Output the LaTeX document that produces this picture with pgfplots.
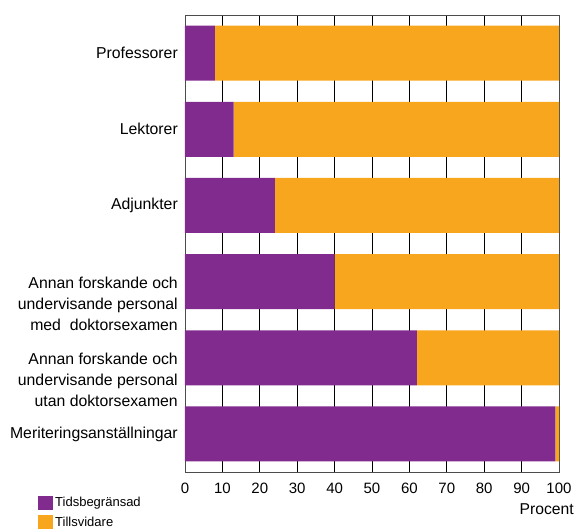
\documentclass[border=0pt]{standalone}
\usepackage{pgfplots}
\pgfplotsset{compat=1.18}
\usepackage{fontspec}
\setmainfont{Liberation Sans}
\definecolor{tidsb}{HTML}{822B8F}
\definecolor{tillsv}{HTML}{F7A61E}

\begin{document}
\begin{tikzpicture}
\begin{axis}[
    name=ax,
    scale only axis,
    width=374pt, height=457pt,
    xbar stacked,
    bar width=55pt,
    xmin=0, xmax=100,
    ymin=-0.5, ymax=5.5,
    y dir=reverse,
    xtick={0,10,...,100},
    ytick={0,1,2,5},
    yticklabels={Professorer, Lektorer, Adjunkter, Meriteringsanställningar},
    extra y ticks={3,4},
    extra y tick labels={
        {Annan forskande och\\undervisande personal\\med\ \ doktorsexamen},
        {Annan forskande och\\undervisande personal\\utan doktorsexamen}},
    extra y tick style={yticklabel style={yshift=-22pt}},
    yticklabel style={align=right, font=\fontsize{15.8}{21}\selectfont, inner sep=0pt, xshift=-7pt},
    xticklabel style={font=\fontsize{15}{18}\selectfont, yshift=-7pt},
    /pgf/number format/assume math mode=true,
    major tick length=0pt,
    xmajorgrids,
    grid style={black, line width=0.7pt},
    axis line style={black!70, line width=0.7pt},
    xlabel={Procent},
    xlabel style={at={(axis description cs:1,0)}, anchor=north east, inner sep=0pt,
        font=\fontsize{15.7}{18}\selectfont, yshift=-31pt, xshift=15pt},
    legend style={at={(axis description cs:-0.393,-0.05)}, anchor=north west,
        draw=none, fill=none, inner sep=0pt, row sep=5pt,
        font=\fontsize{13}{15}\selectfont,
        /tikz/every even column/.append style={column sep=3pt}},
    legend cell align=left,
    legend image code/.code={\fill[#1] (0pt,-7pt) rectangle (15pt,7pt);},
]
\addplot[fill=tidsb, draw=none] coordinates {
    (8,0) (13,1) (24,2) (40,3) (62,4) (99,5)
};
\addplot[fill=tillsv, draw=none] coordinates {
    (92,0) (87,1) (76,2) (60,3) (38,4) (1,5)
};
\legend{Tidsbegränsad, Tillsvidare}
\end{axis}
\path ([xshift=-185pt,yshift=-57pt]ax.south west) rectangle ([xshift=18pt,yshift=15pt]ax.north east);
\end{tikzpicture}
\end{document}
